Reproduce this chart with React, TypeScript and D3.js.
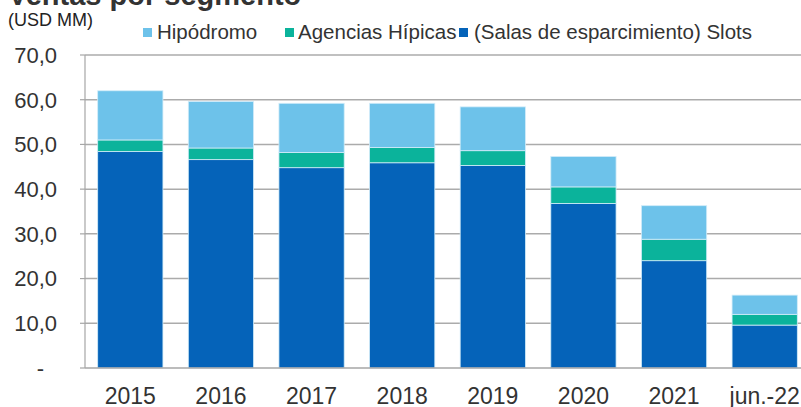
import React from "react";
import * as d3 from "d3";

const categories = ["2015", "2016", "2017", "2018", "2019", "2020", "2021", "jun.-22"];
const slots = [48.4, 46.6, 44.8, 45.9, 45.3, 36.8, 24.0, 9.6];
const agencias = [2.6, 2.6, 3.4, 3.4, 3.3, 3.7, 4.8, 2.4];
const hipodromo = [11.0, 10.4, 11.0, 9.9, 9.8, 6.8, 7.5, 4.3];
const yTicks = [0, 10, 20, 30, 40, 50, 60, 70];
const seriesNames = ["(Salas de esparcimiento) Slots", "Agencias Hípicas", "Hipódromo"];
const legendOrder = ["Hipódromo", "Agencias Hípicas", "(Salas de esparcimiento) Slots"];
const colors: Record<string, string> = {
  "(Salas de esparcimiento) Slots": "#0563B9",
  "Agencias Hípicas": "#0BB39B",
  "Hipódromo": "#6DC2EA",
};

const W = 801;
const H = 407;
const FONT = "'Liberation Sans', Arial, sans-serif";

export default function App() {
  const left = 85;
  const top = 55;
  const bottom = 368;
  const x = d3
    .scaleBand<string>()
    .domain(categories)
    .range([left, 810])
    .paddingInner(0.28)
    .paddingOuter(0.14);
  const y = d3.scaleLinear().domain([0, 70]).range([bottom, top]);

  const rows = categories.map((c, i) => ({
    cat: c,
    [seriesNames[0]]: slots[i],
    [seriesNames[1]]: agencias[i],
    [seriesNames[2]]: hipodromo[i],
  }));
  const stack = d3.stack<any>().keys(seriesNames);
  const layers = stack(rows as any);

  const fmt = (v: number) => (v === 0 ? "-" : v.toFixed(1).replace(".", ","));

  const legendSq = [143, 285, 459];
  const legendTx = [157, 298, 474];

  return (
    <div style={{ position: "absolute", left: 0, top: 0 }}>
      <svg width={W} height={H} style={{ display: "block", fontFamily: FONT }}>
        <rect width={W} height={H} fill="#fff" />
        <text x={8} y={5} fontSize={29} fontWeight="bold" fill="#333">
          Ventas por segmento
        </text>
        <text x={8} y={26} fontSize={18} fill="#222">
          (USD MM)
        </text>
        {legendOrder.map((name, i) => (
          <g key={name}>
            <rect x={legendSq[i]} y={28} width={9} height={9} fill={colors[name]} />
            <text x={legendTx[i]} y={38.5} fontSize={20.5} fill="#333">
              {name}
            </text>
          </g>
        ))}
        {yTicks
          .filter((t) => t > 0)
          .map((t) => (
            <line key={t} x1={left} x2={W} y1={y(t)} y2={y(t)} stroke="#ababab" strokeWidth={1.5} />
          ))}
        {layers.map((layer) => (
          <g key={layer.key} fill={colors[layer.key]}>
            {layer.map((d: any, i: number) => (
              <rect
                key={i}
                x={x(categories[i])!}
                y={y(d[1])}
                width={x.bandwidth()}
                height={y(d[0]) - y(d[1])}
                stroke="#d2ecf9"
                strokeWidth={0.8}
              />
            ))}
          </g>
        ))}
        <line x1={left} x2={left} y1={top} y2={bottom} stroke="#a6a6a6" strokeWidth={1.2} />
        <line x1={left} x2={W} y1={bottom} y2={bottom} stroke="#a6a6a6" strokeWidth={1.5} />
        {yTicks.map((t) => (
          <g key={t}>
            <line x1={left - 5} x2={left} y1={y(t)} y2={y(t)} stroke="#a6a6a6" strokeWidth={1.2} />
            <text
              x={t === 0 ? 44 : 57}
              y={y(t)}
              dy="0.36em"
              textAnchor="end"
              fontSize={22}
              fill="#333"
            >
              {fmt(t)}
            </text>
          </g>
        ))}
        {categories.map((c) => (
          <text
            key={c}
            x={x(c)! + x.bandwidth() / 2}
            y={404}
            textAnchor="middle"
            fontSize={23}
            fill="#333"
          >
            {c}
          </text>
        ))}
      </svg>
    </div>
  );
}
